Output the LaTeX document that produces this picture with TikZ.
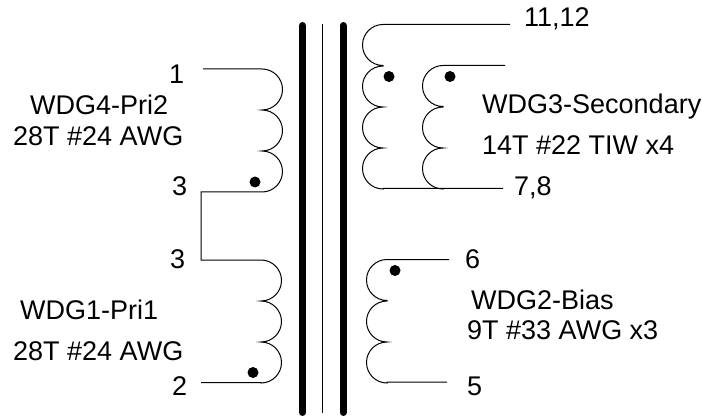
\documentclass[tikz,border=0pt]{standalone}
\usepackage{fontspec}
\setmainfont{Liberation Sans}
\begin{document}
\begin{tikzpicture}[
		x=1pt, y=-1pt,
		wire/.style={line width=1pt},
		core/.style={line width=7pt, line cap=round},
		gap/.style={line width=1pt},
		lobeR/.style={to path={arc[start angle=90, end angle=-90, radius=20.5pt] -- (\tikztotarget)}},
		lobeL/.style={to path={arc[start angle=90, end angle=270, radius=20.5pt] -- (\tikztotarget)}},
		phase/.style={circle, fill=black, inner sep=0pt, minimum size=11pt},
		info/.style={font=\fontsize{27}{27}\selectfont, inner sep=0pt, anchor=base west}
		]
		\useasboundingbox (0,0) rectangle (702,417);
		
		% Core
		\coordinate (coreA1) at (302.5,25.5);
		\coordinate (coreA2) at (302.5,412.5);
		\coordinate (coreB1) at (343,25.5);
		\coordinate (coreB2) at (343,412.5);
		\coordinate (gap1) at (322,24);
		\coordinate (gap2) at (322,413);
		\draw[core] (coreA1) -- (coreA2);
		\draw[core] (coreB1) -- (coreB2);
		\draw[gap] (gap1) -- (gap2);
		
		% WDG4 points
		\coordinate (w4lead) at (203,69);
		\coordinate (w4a) at (262,69);
		\coordinate (w4b) at (262,110);
		\coordinate (w4c) at (262,151);
		\coordinate (w4d) at (262,192);
		
		% WDG1 points
		\coordinate (w1a) at (261,260);
		\coordinate (w1b) at (261,301);
		\coordinate (w1c) at (261,342);
		\coordinate (w1d) at (261,382.5);
		\coordinate (w1lead) at (201,382.5);
		
		% Link between the primaries
		\coordinate (link1) at (201,192);
		\coordinate (link2) at (201,260);
		
		% WDG3 points
		\coordinate (w3a) at (383,24.5);
		\coordinate (w3b) at (383,66);
		\coordinate (w3c) at (383,107);
		\coordinate (w3d) at (383,148);
		\coordinate (w3e) at (383,188.5);
		\coordinate (w3lead1) at (510,24.5);
		\coordinate (w3lead2) at (503,188.5);
		
		% WDG3 inner points
		\coordinate (w3in1) at (443,65.5);
		\coordinate (w3in2) at (443,107);
		\coordinate (w3in3) at (443,148);
		\coordinate (w3in4) at (443,188.5);
		\coordinate (w3inlead) at (505,65.5);
		
		% WDG2 points
		\coordinate (w2a) at (387,259.5);
		\coordinate (w2b) at (387,301);
		\coordinate (w2c) at (387,342);
		\coordinate (w2d) at (387,382);
		\coordinate (w2lead1) at (449,259.5);
		\coordinate (w2lead2) at (447,382);
		
		% Primaries
		\draw[wire] (w4lead) -- (w4a) to[lobeR] (w4b) to[lobeR] (w4c) to[lobeR] (w4d) -- (link1) -- (link2) -- (w1a) to[lobeR] (w1b) to[lobeR] (w1c) to[lobeR] (w1d) -- (w1lead);
		
		% Secondary and bias
		\draw[wire] (w3lead1) -- (w3a) to[lobeL] (w3b) to[lobeL] (w3c) to[lobeL] (w3d) to[lobeL] (w3e) -- (w3lead2);
		\draw[wire] (w3inlead) -- (w3in1) to[lobeL] (w3in2) to[lobeL] (w3in3) to[lobeL] (w3in4);
		\draw[wire] (w2lead1) -- (w2a) to[lobeL] (w2b) to[lobeL] (w2c) to[lobeL] (w2d) -- (w2lead2);
		
		% Phase dots
		\node[phase] (dotW4) at (255,182) {};
		\node[phase] (dotW1) at (253,372.5) {};
		\node[phase] (dotW3) at (389,76.5) {};
		\node[phase] (dotW3in) at (450,76.5) {};
		\node[phase] (dotW2) at (395,270.5) {};
		
		% Pin numbers
		\node[info] (pin1) at (169,84) {1};
		\node[info] (pin3a) at (172,196) {3};
		\node[info] (pin3b) at (170,268) {3};
		\node[info] (pin2) at (172,395) {2};
		\node[info] (pin11) at (524,27) {11,12};
		\node[info] (pin7) at (514,196) {7,8};
		\node[info] (pin6) at (465,268) {6};
		\node[info] (pin5) at (467,395) {5};
		
		% Winding data
		\node[info] (w4name) at (30,115) {WDG4-Pri2};
		\node[info] (w4turns) at (13,146) {28T \#24 AWG};
		\node[info] (w1name) at (20,319) {WDG1-Pri1};
		\node[info] (w1turns) at (13,360) {28T \#24 AWG};
		\node[info] (w3name) at (482,114) {WDG3-Secondary};
		\node[info] (w3turns) at (482,155) {14T \#22 TIW x4};
		\node[info] (w2name) at (471,309) {WDG2-Bias};
		\node[info] (w2turns) at (467,339) {9T \#33 AWG x3};
		
	\end{tikzpicture}
\end{document}
